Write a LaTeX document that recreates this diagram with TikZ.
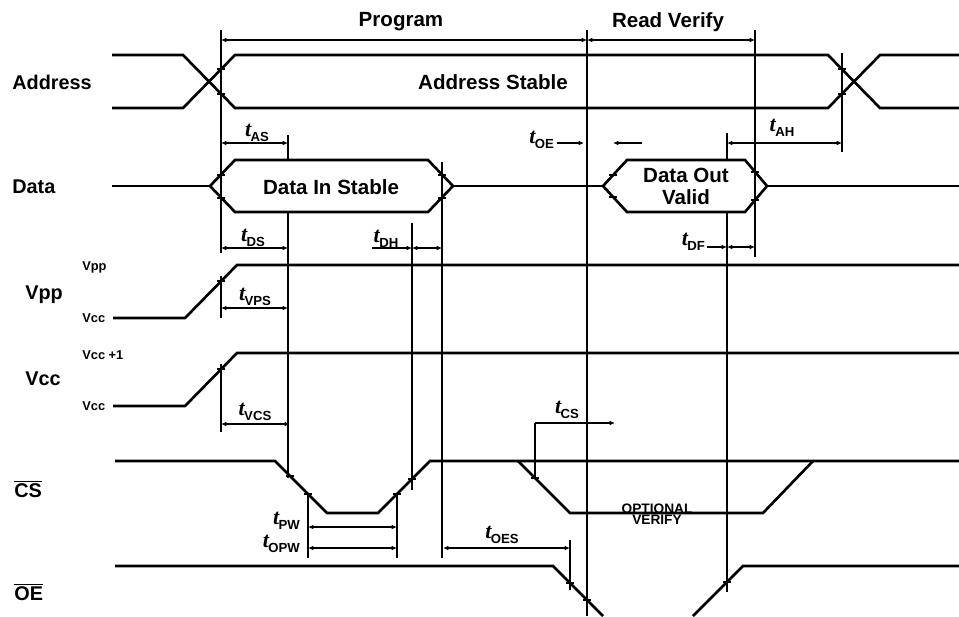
\documentclass[tikz,border=0pt]{standalone}
\usepackage{fontspec}
\setmainfont{Liberation Sans}
\newfontfamily\tfont{Liberation Serif}
\usetikzlibrary{arrows.meta}
\newcommand\tlab[1]{{\fontsize{12.5}{12}\selectfont\tfont\bfseries\itshape t}\kern-0.3pt\raisebox{-0.6ex}{\fontsize{7.5}{8}\selectfont\bfseries #1}}

\begin{document}
\begin{tikzpicture}[x=0.02cm, y=-0.02cm,
    sig/.style={line width=1.5pt},
    guide/.style={line width=1.2pt},
    dim/.style={line width=0.75pt, {Latex[length=3pt,width=2.6pt]}-{Latex[length=3pt,width=2.6pt]}},
    lead/.style={line width=0.75pt, -{Latex[length=3pt,width=2.6pt]}},
    tk/.pic={\draw[line width=0.8pt] (-4,0) -- (4,0);},
    signame/.style={font=\fontsize{11.3}{13}\selectfont\bfseries, anchor=west, inner sep=0pt},
    lvl/.style={font=\fontsize{7.3}{8}\selectfont\bfseries, anchor=west, inner sep=0pt},
    txt/.style={font=\fontsize{11.7}{12.5}\selectfont\bfseries, align=center, inner sep=0pt}]
    \useasboundingbox (0,0) rectangle (959,616);
    % signal names
    \node[signame] (address) at (12,82) {Address};
    \node[signame] (data) at (12,187) {Data};
    \node[signame] (vpp) at (25,295) {Vpp};
    \node[signame] (vcc) at (25,379) {Vcc};
    \node[signame] (cs) at (14,489) {$\overline{\mbox{CS}}$};
    \node[signame] (oe) at (14,592) {$\overline{\mbox{OE}}$};
    \node[lvl] (vpphi) at (82,267) {Vpp};
    \node[lvl] (vpplo) at (82,318) {Vcc};
    \node[lvl] (vcchi) at (82,355) {Vcc +1};
    \node[lvl] (vcclo) at (82,406) {Vcc};
    % address
    \draw[sig] (112,55) -- (183,55) -- (235,108) -- (828,108) -- (880,55) -- (959,55);
    \draw[sig] (112,108) -- (183,108) -- (235,55) -- (828,55) -- (880,108) -- (959,108);
    \node[txt] (adrstable) at (493,82) {Address Stable};
    % data
    \draw[sig] (112,186) -- (210,186);
    \draw[sig] (210,186) -- (235,160) -- (428,160) -- (453,186) -- (428,212) -- (235,212) -- cycle;
    \draw[sig] (453,186) -- (603,186);
    \draw[sig] (603,186) -- (627,160) -- (745,160) -- (767,186) -- (745,212) -- (627,212) -- cycle;
    \draw[sig] (767,186) -- (959,186);
    \node[txt] (datain) at (331,187) {Data In Stable};
    \node[txt] (dataout) at (686,186) {Data Out\\Valid};
    % vpp and vcc
    \draw[sig] (113,318) -- (185,318) -- (237,265) -- (959,265);
    \draw[sig] (113,406) -- (185,406) -- (237,353) -- (959,353);
    % chip select, with optional verify
    \draw[sig] (115,461) -- (275,461) -- (327,513) -- (378,513) -- (430,461) -- (959,461);
    \draw[sig] (518,461) -- (570,513) -- (763,513) -- (813,461);
    \node[txt, font=\fontsize{7.8}{6.5}\selectfont\bfseries] (optver) at (657,514) {OPTIONAL\\VERIFY};
    % output enable
    \draw[sig] (115,566) -- (553,566) -- (603,616);
    \draw[sig] (693,616) -- (743,566) -- (959,566);
    % guide lines
    \draw[guide] (221,30) -- (221,253);
    \draw[guide] (221,276) -- (221,318);
    \draw[guide] (221,364) -- (221,432);
    \draw[guide] (288,135) -- (288,160);
    \draw[guide] (288,212) -- (288,478);
    \draw[guide] (308,494) -- (308,558);
    \draw[guide] (397,494) -- (397,558);
    \draw[guide] (412,223) -- (412,490);
    \draw[guide] (442,162) -- (442,558);
    \draw[guide] (570,540) -- (570,590);
    \draw[guide] (587,30) -- (587,616);
    \draw[guide] (727,133) -- (727,160);
    \draw[guide] (727,212) -- (727,592);
    \draw[guide] (755,30) -- (755,257);
    \draw[guide] (842,53) -- (842,152);
    \draw[guide] (535,478) -- (535,423);
    % crossing marks
    \path (221,69) pic{tk} (221,94) pic{tk} (842,69) pic{tk} (842,94) pic{tk}
          (221,175) pic{tk} (221,198) pic{tk} (442,175) pic{tk} (442,198) pic{tk}
          (613,175) pic{tk} (613,197) pic{tk} (755,172) pic{tk} (755,200) pic{tk}
          (221,281) pic{tk} (221,369) pic{tk}
          (290,476) pic{tk} (308,494) pic{tk} (397,494) pic{tk} (412,479) pic{tk} (535,478) pic{tk}
          (570,583) pic{tk} (587,600) pic{tk} (727,582) pic{tk};
    % phases
    \draw[dim] (221,40) -- (587,40);
    \draw[dim] (587,40) -- (755,40);
    \node[txt] (program) at (401,22) {Program};
    \node[txt] (readver) at (668,22) {Read Verify};
    % timings
    \draw[dim] (221,143) -- (288,143);
    \node (tas) at (257,133) {\tlab{AS}};
    \draw[lead] (557,143) -- (584,143);
    \draw[lead] (642,143) -- (613,143);
    \node[anchor=east, inner sep=1pt] (toe) at (556,140) {\tlab{OE}};
    \draw[dim] (727,143) -- (842,143);
    \node (tah) at (782,128) {\tlab{AH}};
    \draw[dim] (221,248) -- (288,248);
    \node (tds) at (253,238) {\tlab{DS}};
    \draw[lead] (372,248) -- (412,248);
    \draw[dim] (412,248) -- (442,248);
    \node (tdh) at (386,239) {\tlab{DH}};
    \draw[lead] (707,247) -- (727,247);
    \draw[dim] (727,247) -- (755,247);
    \node[anchor=east, inner sep=1pt] (tdf) at (707,242) {\tlab{DF}};
    \draw[dim] (221,308) -- (288,308);
    \node (tvps) at (255,297) {\tlab{VPS}};
    \draw[dim] (221,424) -- (290,424);
    \node (tvcs) at (255,412) {\tlab{VCS}};
    \draw[lead] (535,423) -- (615,423);
    \node (tcs) at (567,410) {\tlab{CS}};
    \draw[dim] (308,527) -- (397,527);
    \node[anchor=east, inner sep=1pt] (tpw) at (302,521) {\tlab{PW}};
    \draw[dim] (308,548) -- (397,548);
    \node[anchor=east, inner sep=1pt] (topw) at (302,544) {\tlab{OPW}};
    \draw[dim] (443,548) -- (570,548);
    \node (toes) at (502,535) {\tlab{OES}};
\end{tikzpicture}
\end{document}
